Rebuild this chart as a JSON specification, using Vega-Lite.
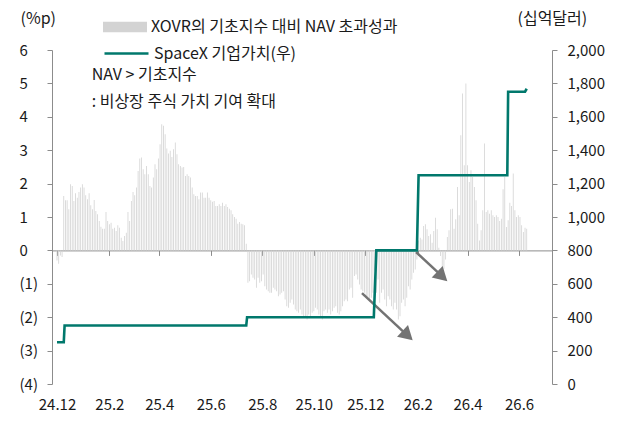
{
  "$schema": "https://vega.github.io/schema/vega-lite/v6.json",
  "width": 500,
  "height": 334,
  "autosize": {"type": "none"},
  "padding": {"left": 52, "top": 50, "right": 75, "bottom": 37},
  "config": {
    "font": "Noto Sans CJK KR",
    "view": {"stroke": null},
    "axis": {"labelFont": "Noto Sans CJK KR", "labelFontSize": 15, "labelColor": "#1a1a1a", "domainColor": "#8c8c8c", "tickColor": "#8c8c8c", "grid": false, "titleFont": "Noto Sans CJK KR", "titleFontSize": 16, "titleFontWeight": "normal", "titleColor": "#1a1a1a", "labelOverlap": false},
    "legend": {"labelFont": "Noto Sans CJK KR", "labelFontSize": 16, "labelColor": "#1a1a1a", "padding": 0, "labelLimit": 0}
  },
  "datasets": {
    "xovr": [
      {"d":"2024-12-01","v":-0.3},{"d":"2024-12-03","v":-0.4},{"d":"2024-12-05","v":-0.15},{"d":"2024-12-07","v":-0.2},{"d":"2024-12-09","v":1.63},{"d":"2024-12-11","v":1.5},{"d":"2024-12-13","v":1.5},{"d":"2024-12-15","v":1.23},{"d":"2024-12-17","v":1.98},{"d":"2024-12-19","v":1.93},{"d":"2024-12-21","v":1.48},{"d":"2024-12-23","v":1.71},{"d":"2024-12-25","v":1.58},{"d":"2024-12-27","v":1.75},{"d":"2024-12-29","v":1.88},{"d":"2024-12-31","v":1.98},
      {"d":"2025-01-02","v":1.88},{"d":"2025-01-04","v":1.65},{"d":"2025-01-06","v":1.53},{"d":"2025-01-08","v":1.71},{"d":"2025-01-10","v":1.35},{"d":"2025-01-12","v":1.23},{"d":"2025-01-14","v":1.51},{"d":"2025-01-16","v":1.18},{"d":"2025-01-18","v":1.08},{"d":"2025-01-20","v":0.88},{"d":"2025-01-22","v":0.71},{"d":"2025-01-24","v":0.65},{"d":"2025-01-26","v":0.65},{"d":"2025-01-28","v":1.15},{"d":"2025-01-30","v":0.88},
      {"d":"2025-02-01","v":0.78},{"d":"2025-02-03","v":0.83},{"d":"2025-02-05","v":0.65},{"d":"2025-02-07","v":0.68},{"d":"2025-02-09","v":0.58},{"d":"2025-02-11","v":0.75},{"d":"2025-02-13","v":0.68},{"d":"2025-02-15","v":0.38},{"d":"2025-02-17","v":0.28},{"d":"2025-02-19","v":0.43},{"d":"2025-02-21","v":0.53},{"d":"2025-02-23","v":1.15},{"d":"2025-02-25","v":0.88},{"d":"2025-02-27","v":1.48},
      {"d":"2025-03-01","v":1.75},{"d":"2025-03-03","v":1.65},{"d":"2025-03-05","v":1.88},{"d":"2025-03-07","v":2.38},{"d":"2025-03-09","v":2.75},{"d":"2025-03-11","v":2.78},{"d":"2025-03-13","v":2.43},{"d":"2025-03-15","v":2.28},{"d":"2025-03-17","v":2.53},{"d":"2025-03-19","v":2.28},{"d":"2025-03-21","v":1.93},{"d":"2025-03-23","v":1.88},{"d":"2025-03-25","v":2.18},{"d":"2025-03-27","v":2.58},{"d":"2025-03-29","v":2.43},{"d":"2025-03-31","v":2.75},
      {"d":"2025-04-02","v":3.18},{"d":"2025-04-04","v":3.78},{"d":"2025-04-06","v":3.73},{"d":"2025-04-08","v":3.48},{"d":"2025-04-10","v":3.05},{"d":"2025-04-12","v":2.9},{"d":"2025-04-14","v":2.98},{"d":"2025-04-16","v":2.8},{"d":"2025-04-18","v":3.03},{"d":"2025-04-20","v":3.23},{"d":"2025-04-22","v":2.88},{"d":"2025-04-24","v":2.58},{"d":"2025-04-26","v":2.53},{"d":"2025-04-28","v":2.48},{"d":"2025-04-30","v":2.5},
      {"d":"2025-05-02","v":2.23},{"d":"2025-05-04","v":2.28},{"d":"2025-05-06","v":2.23},{"d":"2025-05-08","v":2.18},{"d":"2025-05-10","v":1.88},{"d":"2025-05-12","v":1.68},{"d":"2025-05-14","v":1.63},{"d":"2025-05-16","v":1.63},{"d":"2025-05-18","v":1.53},{"d":"2025-05-20","v":1.73},{"d":"2025-05-22","v":1.73},{"d":"2025-05-24","v":1.58},{"d":"2025-05-26","v":1.58},{"d":"2025-05-28","v":1.73},{"d":"2025-05-30","v":1.58},
      {"d":"2025-06-01","v":1.5},{"d":"2025-06-03","v":1.46},{"d":"2025-06-05","v":1.48},{"d":"2025-06-07","v":1.33},{"d":"2025-06-09","v":1.33},{"d":"2025-06-11","v":1.38},{"d":"2025-06-13","v":1.33},{"d":"2025-06-15","v":1.43},{"d":"2025-06-17","v":1.33},{"d":"2025-06-19","v":1.38},{"d":"2025-06-21","v":1.3},{"d":"2025-06-23","v":1.25},{"d":"2025-06-25","v":1.2},{"d":"2025-06-27","v":1.08},{"d":"2025-06-29","v":1.0},
      {"d":"2025-07-01","v":0.95},{"d":"2025-07-03","v":0.8},{"d":"2025-07-05","v":0.85},{"d":"2025-07-07","v":0.8},{"d":"2025-07-09","v":0.78},{"d":"2025-07-11","v":0.75},{"d":"2025-07-13","v":0.2},{"d":"2025-07-15","v":-0.97},{"d":"2025-07-17","v":-0.92},{"d":"2025-07-19","v":-0.72},{"d":"2025-07-21","v":-0.82},{"d":"2025-07-23","v":-0.87},{"d":"2025-07-25","v":-1.12},{"d":"2025-07-27","v":-0.82},{"d":"2025-07-29","v":-0.97},{"d":"2025-07-31","v":-0.92},
      {"d":"2025-08-02","v":-0.72},{"d":"2025-08-04","v":-1.07},{"d":"2025-08-06","v":-1.17},{"d":"2025-08-08","v":-1.22},{"d":"2025-08-10","v":-1.27},{"d":"2025-08-12","v":-1.27},{"d":"2025-08-14","v":-1.12},{"d":"2025-08-16","v":-1.17},{"d":"2025-08-18","v":-1.22},{"d":"2025-08-20","v":-1.37},{"d":"2025-08-22","v":-1.32},{"d":"2025-08-24","v":-1.27},{"d":"2025-08-26","v":-1.22},{"d":"2025-08-28","v":-1.47},{"d":"2025-08-30","v":-1.67},
      {"d":"2025-09-01","v":-1.72},{"d":"2025-09-03","v":-1.57},{"d":"2025-09-05","v":-1.47},{"d":"2025-09-07","v":-1.62},{"d":"2025-09-09","v":-1.77},{"d":"2025-09-11","v":-1.82},{"d":"2025-09-13","v":-1.87},{"d":"2025-09-15","v":-1.77},{"d":"2025-09-17","v":-1.92},{"d":"2025-09-19","v":-1.97},{"d":"2025-09-21","v":-2.02},{"d":"2025-09-23","v":-2.07},{"d":"2025-09-25","v":-1.92},{"d":"2025-09-27","v":-1.97},{"d":"2025-09-29","v":-1.87},
      {"d":"2025-10-01","v":-1.82},{"d":"2025-10-03","v":-1.72},{"d":"2025-10-05","v":-1.77},{"d":"2025-10-07","v":-1.92},{"d":"2025-10-09","v":-2.02},{"d":"2025-10-11","v":-2.07},{"d":"2025-10-13","v":-1.82},{"d":"2025-10-15","v":-1.77},{"d":"2025-10-17","v":-1.87},{"d":"2025-10-19","v":-1.77},{"d":"2025-10-21","v":-1.92},{"d":"2025-10-23","v":-1.82},{"d":"2025-10-25","v":-1.72},{"d":"2025-10-27","v":-1.67},{"d":"2025-10-29","v":-1.87},{"d":"2025-10-31","v":-1.92},
      {"d":"2025-11-02","v":-1.82},{"d":"2025-11-04","v":-1.67},{"d":"2025-11-06","v":-1.52},{"d":"2025-11-08","v":-1.47},{"d":"2025-11-10","v":-1.52},{"d":"2025-11-12","v":-1.17},{"d":"2025-11-14","v":-1.12},{"d":"2025-11-16","v":-1.42},{"d":"2025-11-18","v":-0.77},{"d":"2025-11-20","v":-0.72},{"d":"2025-11-22","v":-0.87},{"d":"2025-11-24","v":-1.02},{"d":"2025-11-26","v":-1.17},{"d":"2025-11-28","v":-1.22},{"d":"2025-11-30","v":-1.27},
      {"d":"2025-12-02","v":-1.37},{"d":"2025-12-04","v":-1.42},{"d":"2025-12-06","v":-1.52},{"d":"2025-12-08","v":-1.42},{"d":"2025-12-10","v":-1.27},{"d":"2025-12-12","v":-0.6},{"d":"2025-12-14","v":-1.27},{"d":"2025-12-16","v":-0.87},{"d":"2025-12-18","v":-1.57},{"d":"2025-12-20","v":-1.27},{"d":"2025-12-22","v":-1.17},{"d":"2025-12-24","v":-1.47},{"d":"2025-12-26","v":-1.67},{"d":"2025-12-28","v":-1.37},{"d":"2025-12-30","v":-1.47},
      {"d":"2026-01-01","v":-1.67},{"d":"2026-01-03","v":-1.77},{"d":"2026-01-05","v":-1.57},{"d":"2026-01-07","v":-1.77},{"d":"2026-01-09","v":-2.07},{"d":"2026-01-11","v":-1.97},{"d":"2026-01-13","v":-1.57},{"d":"2026-01-15","v":-1.47},{"d":"2026-01-17","v":-1.67},{"d":"2026-01-19","v":-1.42},{"d":"2026-01-21","v":-1.07},{"d":"2026-01-23","v":-1.17},{"d":"2026-01-25","v":-0.87},{"d":"2026-01-27","v":-0.67},{"d":"2026-01-29","v":-0.57},{"d":"2026-01-31","v":-0.27},
      {"d":"2026-02-02","v":0.3},{"d":"2026-02-04","v":0.38},{"d":"2026-02-06","v":0.33},{"d":"2026-02-08","v":0.73},{"d":"2026-02-10","v":0.78},{"d":"2026-02-12","v":0.63},{"d":"2026-02-14","v":0.43},{"d":"2026-02-16","v":0.48},{"d":"2026-02-18","v":0.23},{"d":"2026-02-20","v":0.58},{"d":"2026-02-22","v":0.98},{"d":"2026-02-24","v":0.63},{"d":"2026-02-26","v":0.08},{"d":"2026-02-28","v":-0.17},
      {"d":"2026-03-02","v":-0.67},{"d":"2026-03-04","v":-0.55},{"d":"2026-03-06","v":-0.27},{"d":"2026-03-08","v":0.4},{"d":"2026-03-10","v":0.6},{"d":"2026-03-12","v":1.23},{"d":"2026-03-14","v":1.25},{"d":"2026-03-16","v":0.65},{"d":"2026-03-18","v":0.93},{"d":"2026-03-20","v":1.9},{"d":"2026-03-22","v":1.05},{"d":"2026-03-24","v":3.45},{"d":"2026-03-26","v":4.7},{"d":"2026-03-28","v":2.55},{"d":"2026-03-30","v":5.0},
      {"d":"2026-04-01","v":2.55},{"d":"2026-04-03","v":2.05},{"d":"2026-04-05","v":2.4},{"d":"2026-04-07","v":2.2},{"d":"2026-04-09","v":1.9},{"d":"2026-04-11","v":1.5},{"d":"2026-04-13","v":0.8},{"d":"2026-04-15","v":0.3},{"d":"2026-04-17","v":0.6},{"d":"2026-04-19","v":1.2},{"d":"2026-04-21","v":3.2},{"d":"2026-04-23","v":1.15},{"d":"2026-04-25","v":1.2},{"d":"2026-04-27","v":1.1},{"d":"2026-04-29","v":1.2},
      {"d":"2026-05-01","v":1.05},{"d":"2026-05-03","v":1.0},{"d":"2026-05-05","v":1.05},{"d":"2026-05-07","v":1.0},{"d":"2026-05-09","v":0.88},{"d":"2026-05-11","v":0.95},{"d":"2026-05-13","v":1.83},{"d":"2026-05-15","v":2.2},{"d":"2026-05-17","v":0.7},{"d":"2026-05-19","v":0.9},{"d":"2026-05-21","v":1.43},{"d":"2026-05-23","v":1.33},{"d":"2026-05-25","v":2.3},{"d":"2026-05-27","v":1.2},{"d":"2026-05-29","v":1.0},{"d":"2026-05-31","v":1.05},
      {"d":"2026-06-02","v":1.0},{"d":"2026-06-04","v":0.75},{"d":"2026-06-06","v":0.55},{"d":"2026-06-08","v":0.68},{"d":"2026-06-10","v":0.65}
    ],
    "spacex": [
      {"d":"2024-12-01","v":250},{"d":"2024-12-09","v":250},{"d":"2024-12-10","v":350},{"d":"2025-07-13","v":350},{"d":"2025-07-14","v":400},{"d":"2025-12-11","v":400},{"d":"2025-12-14","v":800},{"d":"2026-01-31","v":800},{"d":"2026-02-02","v":1250},{"d":"2026-05-18","v":1250},{"d":"2026-05-19","v":1750},{"d":"2026-06-08","v":1750},{"d":"2026-06-10","v":1768}
    ]
  },
  "layer": [
    {
      "layer": [
        {
          "data": {"name": "xovr"},
          "mark": {"type": "bar", "width": 0.8},
          "encoding": {
            "x": {
              "field": "d", "type": "temporal",
              "scale": {"domain": [{"year": 2024, "month": 12, "date": 1}, {"year": 2026, "month": 7, "date": 4}]},
              "axis": {
                "values": [{"year": 2024, "month": 12, "date": 1}, {"year": 2025, "month": 2, "date": 1}, {"year": 2025, "month": 4, "date": 1}, {"year": 2025, "month": 6, "date": 1}, {"year": 2025, "month": 8, "date": 1}, {"year": 2025, "month": 10, "date": 1}, {"year": 2025, "month": 12, "date": 1}, {"year": 2026, "month": 2, "date": 1}, {"year": 2026, "month": 4, "date": 1}, {"year": 2026, "month": 6, "date": 1}],
                "format": "%y.%-m", "formatType": "time",
                "offset": -133.6, "tickSize": 5, "labelPadding": 142,
                "labelFlush": false, "labelOverlap": false, "labelBound": false, "title": null
              }
            },
            "y": {
              "field": "v", "type": "quantitative",
              "scale": {"domain": [-4, 6], "nice": false, "zero": false},
              "axis": {
                "values": [-4, -3, -2, -1, 0, 1, 2, 3, 4, 5, 6],
                "labelExpr": "datum.value < 0 ? '(' + abs(datum.value) + ')' : '' + datum.value",
                "labelOverlap": false,
                "tickSize": 5, "labelAlign": "left", "labelPadding": 28, "labelBaseline": "middle",
                "title": "(%p)", "titleAngle": 0, "titleX": -32, "titleY": -32, "titleAlign": "left", "titleBaseline": "middle"
              }
            },
            "fill": {
              "datum": "XOVR의 기초지수 대비 NAV 초과성과",
              "scale": {"range": ["#d3d3d3"]},
              "legend": {"orient": "none", "legendX": 51, "legendY": -45, "title": null, "symbolType": "M-1,-0.24H1V0.24H-1Z", "symbolSize": 1936, "symbolStrokeWidth": 0, "labelOffset": 4, "labelLimit": 0}
            }
          }
        },
        {
          "data": {"values": [{}]},
          "mark": {"type": "text", "align": "left", "baseline": "middle", "fontSize": 16, "color": "#1a1a1a"},
          "encoding": {
            "x": {"datum": {"year": 2025, "month": 1, "date": 11}, "type": "temporal"},
            "y": {"datum": 5.25, "type": "quantitative", "axis": {"values": [-4, -3, -2, -1, 0, 1, 2, 3, 4, 5, 6], "labelExpr": "datum.value < 0 ? '(' + abs(datum.value) + ')' : '' + datum.value", "labelOverlap": false, "tickSize": 5, "labelAlign": "left", "labelPadding": 28, "labelBaseline": "middle", "title": "(%p)", "titleAngle": 0, "titleX": -32, "titleY": -32, "titleAlign": "left", "titleBaseline": "middle"}},
            "text": {"value": "NAV > 기초지수"}
          }
        },
        {
          "data": {"values": [{}]},
          "mark": {"type": "text", "align": "left", "baseline": "middle", "fontSize": 16, "color": "#1a1a1a"},
          "encoding": {
            "x": {"datum": {"year": 2025, "month": 1, "date": 11}, "type": "temporal"},
            "y": {"datum": 4.44, "type": "quantitative", "axis": {"values": [-4, -3, -2, -1, 0, 1, 2, 3, 4, 5, 6], "labelExpr": "datum.value < 0 ? '(' + abs(datum.value) + ')' : '' + datum.value", "labelOverlap": false, "tickSize": 5, "labelAlign": "left", "labelPadding": 28, "labelBaseline": "middle", "title": "(%p)", "titleAngle": 0, "titleX": -32, "titleY": -32, "titleAlign": "left", "titleBaseline": "middle"}},
            "text": {"value": ": 비상장 주식 가치 기여 확대"}
          }
        },
        {
          "data": {"values": [{}]},
          "mark": {"type": "rule", "strokeWidth": 2.5, "color": "#737373"},
          "encoding": {
            "x": {"datum": {"year": 2025, "month": 11, "date": 27}, "type": "temporal"},
            "y": {"datum": -1.28, "type": "quantitative", "axis": {"values": [-4, -3, -2, -1, 0, 1, 2, 3, 4, 5, 6], "labelExpr": "datum.value < 0 ? '(' + abs(datum.value) + ')' : '' + datum.value", "labelOverlap": false, "tickSize": 5, "labelAlign": "left", "labelPadding": 28, "labelBaseline": "middle", "title": "(%p)", "titleAngle": 0, "titleX": -32, "titleY": -32, "titleAlign": "left", "titleBaseline": "middle"}},
            "x2": {"datum": {"year": 2026, "month": 1, "date": 20}},
            "y2": {"datum": -2.55}
          }
        },
        {
          "data": {"values": [{}]},
          "mark": {"type": "rule", "strokeWidth": 2.5, "color": "#737373"},
          "encoding": {
            "x": {"datum": {"year": 2026, "month": 1, "date": 30}, "type": "temporal"},
            "y": {"datum": -0.05, "type": "quantitative", "axis": {"values": [-4, -3, -2, -1, 0, 1, 2, 3, 4, 5, 6], "labelExpr": "datum.value < 0 ? '(' + abs(datum.value) + ')' : '' + datum.value", "labelOverlap": false, "tickSize": 5, "labelAlign": "left", "labelPadding": 28, "labelBaseline": "middle", "title": "(%p)", "titleAngle": 0, "titleX": -32, "titleY": -32, "titleAlign": "left", "titleBaseline": "middle"}},
            "x2": {"datum": {"year": 2026, "month": 3, "date": 2}},
            "y2": {"datum": -0.78}
          }
        },
        {
          "data": {"values": [{}]},
          "mark": {"type": "point", "shape": "triangle-right", "filled": true, "size": 256, "angle": 43, "color": "#737373", "opacity": 1},
          "encoding": {
            "x": {"datum": {"year": 2026, "month": 1, "date": 20}, "type": "temporal"},
            "y": {"datum": -2.55, "type": "quantitative", "axis": {"values": [-4, -3, -2, -1, 0, 1, 2, 3, 4, 5, 6], "labelExpr": "datum.value < 0 ? '(' + abs(datum.value) + ')' : '' + datum.value", "labelOverlap": false, "tickSize": 5, "labelAlign": "left", "labelPadding": 28, "labelBaseline": "middle", "title": "(%p)", "titleAngle": 0, "titleX": -32, "titleY": -32, "titleAlign": "left", "titleBaseline": "middle"}}
          }
        },
        {
          "data": {"values": [{}]},
          "mark": {"type": "point", "shape": "triangle-right", "filled": true, "size": 256, "angle": 43, "color": "#737373", "opacity": 1},
          "encoding": {
            "x": {"datum": {"year": 2026, "month": 3, "date": 2}, "type": "temporal"},
            "y": {"datum": -0.78, "type": "quantitative", "axis": {"values": [-4, -3, -2, -1, 0, 1, 2, 3, 4, 5, 6], "labelExpr": "datum.value < 0 ? '(' + abs(datum.value) + ')' : '' + datum.value", "labelOverlap": false, "tickSize": 5, "labelAlign": "left", "labelPadding": 28, "labelBaseline": "middle", "title": "(%p)", "titleAngle": 0, "titleX": -32, "titleY": -32, "titleAlign": "left", "titleBaseline": "middle"}}
          }
        }
      ]
    },
    {
      "data": {"name": "spacex"},
      "mark": {"type": "line", "strokeWidth": 2.6, "interpolate": "linear"},
      "encoding": {
        "x": {"field": "d", "type": "temporal"},
        "y": {
          "field": "v", "type": "quantitative",
          "scale": {"domain": [0, 2000], "nice": false},
          "axis": {
            "orient": "right",
            "values": [0, 200, 400, 600, 800, 1000, 1200, 1400, 1600, 1800, 2000],
            "format": ",.0f", "labelOverlap": false, "tickSize": 5, "labelPadding": 10,
            "title": "(십억달러)", "titleAngle": 0, "titleX": -35, "titleY": -32, "titleAlign": "left", "titleBaseline": "middle"
          }
        },
        "stroke": {
          "datum": "SpaceX 기업가치(우)",
          "scale": {"range": ["#00786c"]},
          "legend": {"orient": "none", "legendX": 51, "legendY": -20, "title": null, "symbolType": "stroke", "symbolSize": 1936, "symbolStrokeWidth": 2.6, "labelOffset": 4, "labelLimit": 0}
        }
      }
    }
  ],
  "resolve": {"scale": {"y": "independent"}, "axis": {"y": "independent"}}
}
